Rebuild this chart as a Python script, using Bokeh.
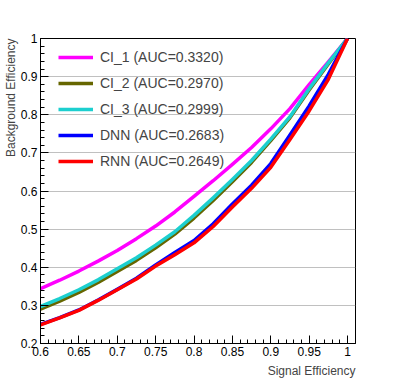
from bokeh.plotting import figure
from bokeh.models import Legend, LegendItem, Title, Range1d, FixedTicker, CustomJSTickFormatter
from bokeh.embed import file_html
from bokeh.resources import INLINE

# Signal efficiency sample points
sig_eff = [0.6, 0.625, 0.65, 0.675, 0.7, 0.725, 0.75, 0.775, 0.8,
           0.825, 0.85, 0.875, 0.9, 0.925, 0.95, 0.975, 1.0]

# Background efficiency per model
ci_1 = [0.344, 0.366, 0.390, 0.416, 0.444, 0.475, 0.508, 0.545, 0.586,
        0.627, 0.670, 0.714, 0.763, 0.816, 0.879, 0.939, 1.0]
ci_2 = [0.290, 0.311, 0.334, 0.360, 0.389, 0.418, 0.451, 0.487, 0.529,
        0.575, 0.624, 0.675, 0.732, 0.792, 0.865, 0.933, 1.0]
ci_3 = [0.297, 0.318, 0.341, 0.367, 0.396, 0.425, 0.458, 0.493, 0.536,
        0.582, 0.630, 0.680, 0.736, 0.795, 0.868, 0.936, 1.0]
dnn = [0.250, 0.268, 0.288, 0.314, 0.342, 0.371, 0.406, 0.439, 0.470,
       0.514, 0.566, 0.615, 0.672, 0.747, 0.823, 0.906, 1.0]
rnn = [0.249, 0.267, 0.287, 0.313, 0.341, 0.369, 0.403, 0.433, 0.464,
       0.507, 0.558, 0.607, 0.662, 0.735, 0.810, 0.893, 1.0]

labels = ["CI_1 (AUC=0.3320)", "CI_2 (AUC=0.2970)", "CI_3 (AUC=0.2999)",
          "DNN (AUC=0.2683)", "RNN (AUC=0.2649)"]
colors = ["#ff00ff", "#666600", "#1ccfcf", "#0000ff", "#ff0000"]
series = [ci_1, ci_2, ci_3, dnn, rnn]

x_major = [0.6, 0.65, 0.7, 0.75, 0.8, 0.85, 0.9, 0.95, 1.0]
y_major = [0.2, 0.3, 0.4, 0.5, 0.6, 0.7, 0.8, 0.9, 1.0]
x_minor = [round(0.6 + 0.01 * i, 3) for i in range(42)]
y_minor = [round(0.2 + 0.02 * i, 3) for i in range(41)]

FONT = "Liberation Sans"

p = figure(width=395, height=382, output_backend="svg", toolbar_location=None,
           x_range=Range1d(0.6, 1.0104), y_range=Range1d(0.2, 1.0),
           min_border_left=40, min_border_right=40, min_border_top=38,
           min_border_bottom=39)
p.background_fill_color = "white"
p.border_fill_color = "white"
p.outline_line_color = "black"
p.outline_line_width = 1

renderers = []
for ys, c in zip(series, colors):
    r = p.line(sig_eff, ys, line_color=c, line_width=3.5, line_join="round")
    renderers.append(r)

fmt = CustomJSTickFormatter(code="return String(Number(tick.toFixed(3)));")

for ax, major, minor in ((p.xaxis[0], x_major, x_minor), (p.yaxis[0], y_major, y_minor)):
    ax.ticker = FixedTicker(ticks=major, minor_ticks=minor)
    ax.formatter = fmt
    ax.major_tick_in = 8
    ax.major_tick_out = 0
    ax.minor_tick_in = 4
    ax.minor_tick_out = 0
    ax.axis_line_color = "black"
    ax.major_tick_line_color = "black"
    ax.minor_tick_line_color = "black"
    ax.major_label_text_font = FONT
    ax.major_label_text_font_size = "12px"
    ax.major_label_text_color = "black"
    ax.major_label_standoff = 3

p.xgrid.visible = False
p.ygrid.ticker = FixedTicker(ticks=y_major)
p.ygrid.grid_line_color = "#808080"
p.ygrid.grid_line_dash = "1 1"
p.ygrid.grid_line_width = 1

p.add_layout(Title(text="Signal Efficiency", align="right", text_font=FONT,
                   text_font_size="12px", text_font_style="normal",
                   standoff=6), "below")
p.add_layout(Title(text="Background Efficiency", align="right", text_font=FONT,
                   text_font_size="12px", text_font_style="normal",
                   standoff=0), "left")

legend = Legend(items=[LegendItem(label=l, renderers=[r]) for l, r in zip(labels, renderers)],
                location=(18, 172), glyph_width=35, glyph_height=20, label_height=20,
                spacing=6, padding=0, margin=0, label_standoff=7,
                label_text_font=FONT, label_text_font_size="14px",
                border_line_alpha=0, background_fill_alpha=0)
p.add_layout(legend)

open("out.html", "w").write(file_html(p, INLINE))
